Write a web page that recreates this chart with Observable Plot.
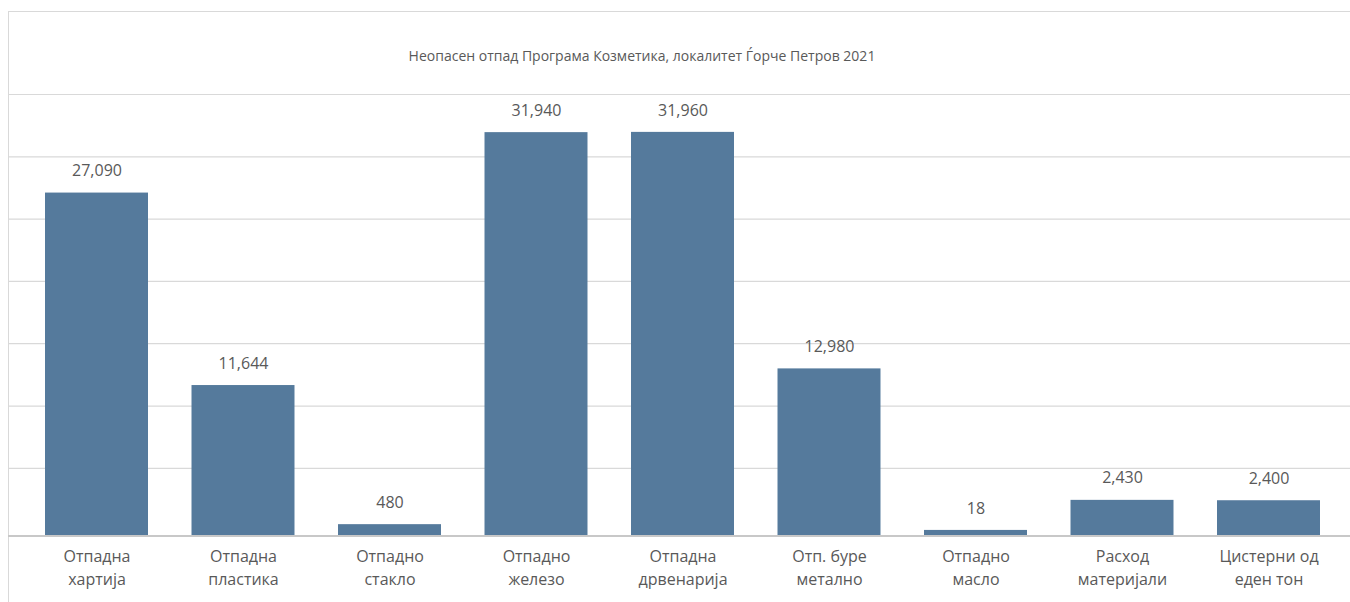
<!DOCTYPE html>
<html>
<head>
<meta charset="utf-8">
<script src="https://cdn.jsdelivr.net/npm/d3@7"></script>
<script src="https://cdn.jsdelivr.net/npm/@observablehq/plot@0.6"></script>
<style>
  html, body { margin: 0; padding: 0; background: #fff; overflow: hidden; }
  #wrap { position: relative; width: 1350px; height: 602px; font-family: "Open Sans", sans-serif; }
  #frame { position: absolute; left: 8px; top: 11px; width: 1400px; height: 700px;
           border-left: 1px solid #d9d9d9; border-top: 1px solid #d9d9d9; }
  #title { position: absolute; left: 342px; width: 600px; top: 46px; text-align: center;
           font-size: 14px; color: #595959; white-space: nowrap; }
  #chart { position: absolute; left: 0; top: 0; }
</style>
</head>
<body>
<div id="wrap">
  <div id="frame"></div>
  <div id="chart"></div>
  <div id="title">Неопасен отпад Програма Козметика, локалитет Ѓорче Петров 2021</div>
</div>
<script>
const categories = [
  "Отпадна\nхартија",
  "Отпадна\nпластика",
  "Отпадно\nстакло",
  "Отпадно\nжелезо",
  "Отпадна\nдрвенарија",
  "Отп. буре\nметално",
  "Отпадно\nмасло",
  "Расход\nматеријали",
  "Цистерни од\nеден тон"
];
const values = [27090, 11644, 480, 31940, 31960, 12980, 18, 2430, 2400];
const gridValues = [5000, 10000, 15000, 20000, 25000, 30000, 35000];
const yMin = -430;
const yMax = 35000;

const data = categories.map((c, i) => ({category: c, value: values[i]}));
const fmt = d3.format(",");
const textColor = "#595959";

const chart = Plot.plot({
  width: 1350,
  height: 602,
  marginLeft: 8,
  marginRight: 0,
  marginTop: 94,
  marginBottom: 66.5,
  style: {background: "transparent", fontFamily: "'Open Sans', sans-serif"},
  x: {domain: categories, range: [23.25, 1341.75], paddingInner: 0.297, paddingOuter: 0.1485, round: false, label: null},
  y: {domain: [yMin, yMax], label: null},
  marks: [
    Plot.ruleY(gridValues, {stroke: "#d9d9d9", strokeWidth: 1.2}),
    Plot.barY(data, {x: "category", y1: () => yMin, y2: "value", fill: "#557a9c"}),
    Plot.ruleY([yMin], {stroke: "#c8c8c8", strokeWidth: 2}),
    Plot.text(data, {x: "category", y: "value", text: d => fmt(d.value), dy: -22,
      lineAnchor: "middle", fontSize: 16, fill: textColor}),
    Plot.axisX({tickSize: 0, tickPadding: 10, fontSize: 16, lineHeight: 1.42,
      color: textColor, label: null}),
    Plot.axisY({ticks: [], label: null, tickSize: 0})
  ]
});
document.getElementById("chart").appendChild(chart);
</script>
</body>
</html>
